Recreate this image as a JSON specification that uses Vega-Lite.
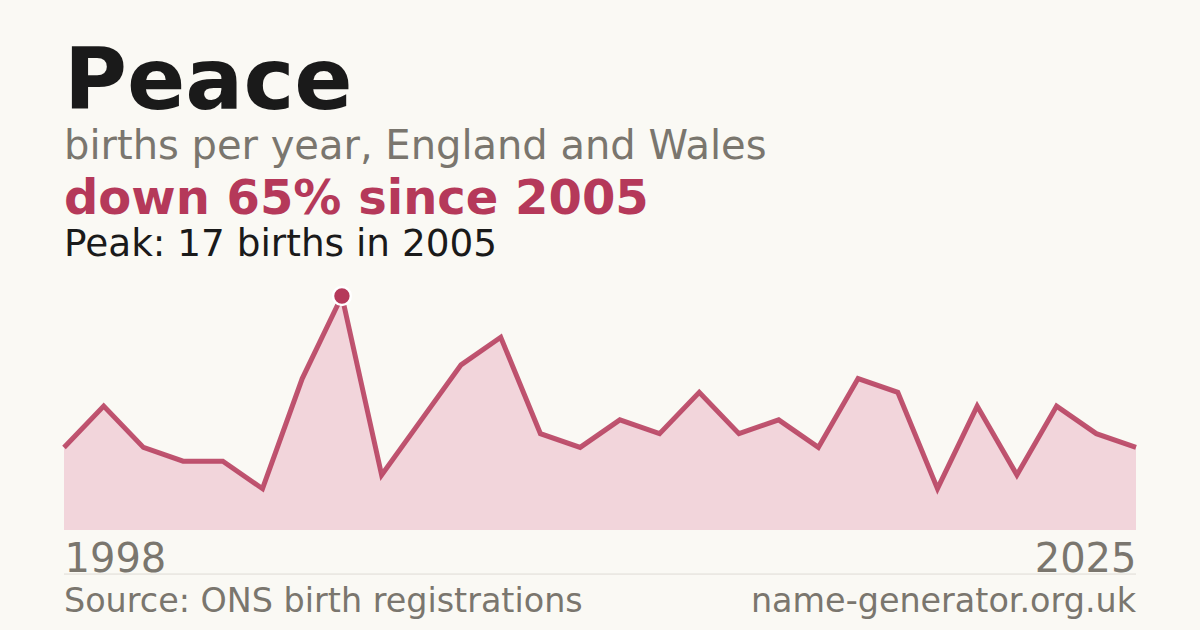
{
  "$schema": "https://vega.github.io/schema/vega-lite/v6.json",
  "width": 1072,
  "height": 234,
  "autosize": {"type": "none"},
  "padding": {"left": 64, "right": 64, "top": 296, "bottom": 100},
  "background": "#faf9f4",
  "config": {
    "font": "DejaVu Sans",
    "view": {"stroke": null}
  },
  "title": {
    "text": "Peace",
    "subtitle": "births per year, England and Wales",
    "anchor": "start",
    "frame": "group",
    "fontSize": 86,
    "fontWeight": "bold",
    "color": "#1a1a1a",
    "subtitleFontSize": 40,
    "subtitleColor": "#7a766e",
    "subtitlePadding": 0,
    "offset": 8
  },
  "data": {
    "values": [
      {"year": 1998, "births": 6},
      {"year": 1999, "births": 9},
      {"year": 2000, "births": 6},
      {"year": 2001, "births": 5},
      {"year": 2002, "births": 5},
      {"year": 2003, "births": 3},
      {"year": 2004, "births": 11},
      {"year": 2005, "births": 17},
      {"year": 2006, "births": 4},
      {"year": 2007, "births": 8},
      {"year": 2008, "births": 12},
      {"year": 2009, "births": 14},
      {"year": 2010, "births": 7},
      {"year": 2011, "births": 6},
      {"year": 2012, "births": 8},
      {"year": 2013, "births": 7},
      {"year": 2014, "births": 10},
      {"year": 2015, "births": 7},
      {"year": 2016, "births": 8},
      {"year": 2017, "births": 6},
      {"year": 2018, "births": 11},
      {"year": 2019, "births": 10},
      {"year": 2020, "births": 3},
      {"year": 2021, "births": 9},
      {"year": 2022, "births": 4},
      {"year": 2023, "births": 9},
      {"year": 2024, "births": 7},
      {"year": 2025, "births": 6}
    ]
  },
  "encoding": {
    "x": {
      "field": "year",
      "type": "quantitative",
      "scale": {"domain": [1998, 2025], "nice": false, "zero": false},
      "axis": {
        "values": [1998, 2025],
        "title": null,
        "format": "d",
        "grid": false,
        "domain": false,
        "ticks": false,
        "labelFontSize": 40,
        "labelColor": "#7a766e",
        "labelPadding": 9,
        "labelAlign": {"expr": "datum.value == 1998 ? 'left' : 'right'"},
        "labelFlush": false
      }
    },
    "y": {
      "field": "births",
      "type": "quantitative",
      "scale": {"domain": [0, 17], "nice": false},
      "axis": null
    }
  },
  "layer": [
    {
      "mark": {"type": "area", "color": "#f2d5db", "clip": false}
    },
    {
      "mark": {"type": "line", "color": "#b5395a", "strokeWidth": 5, "opacity": 0.86, "clip": false}
    },
    {
      "transform": [{"filter": "datum.year == 2005"}],
      "mark": {"type": "point", "filled": true, "color": "#b5395a", "size": 320, "stroke": "#ffffff", "strokeWidth": 2.5, "opacity": 1, "clip": false}
    },
    {
      "transform": [{"filter": "datum.year == 1998"}],
      "mark": {"type": "text", "align": "left", "baseline": "alphabetic", "fontSize": 48, "fontWeight": "bold", "color": "#b5395a", "clip": false},
      "encoding": {
        "x": {"datum": 1998},
        "y": {"datum": 22.96},
        "text": {"value": "down 65% since 2005"}
      }
    },
    {
      "transform": [{"filter": "datum.year == 1998"}],
      "mark": {"type": "text", "align": "left", "baseline": "alphabetic", "fontSize": 37.4, "color": "#1a1a1a", "clip": false},
      "encoding": {
        "x": {"datum": 1998},
        "y": {"datum": 19.93},
        "text": {"value": "Peak: 17 births in 2005"}
      }
    },
    {
      "transform": [{"filter": "datum.year == 1998"}],
      "mark": {"type": "rule", "color": "#dedbd5", "strokeWidth": 1, "clip": false},
      "encoding": {
        "x": {"datum": 1998},
        "x2": {"datum": 2025},
        "y": {"datum": -3.2}
      }
    },
    {
      "transform": [{"filter": "datum.year == 1998"}],
      "mark": {"type": "text", "align": "left", "baseline": "alphabetic", "fontSize": 33.4, "color": "#7a766e", "clip": false},
      "encoding": {
        "x": {"datum": 1998},
        "y": {"datum": -5.95},
        "text": {"value": "Source: ONS birth registrations"}
      }
    },
    {
      "transform": [{"filter": "datum.year == 1998"}],
      "mark": {"type": "text", "align": "right", "baseline": "alphabetic", "fontSize": 33.4, "color": "#7a766e", "clip": false},
      "encoding": {
        "x": {"datum": 2025},
        "y": {"datum": -5.95},
        "text": {"value": "name-generator.org.uk"}
      }
    }
  ]
}
